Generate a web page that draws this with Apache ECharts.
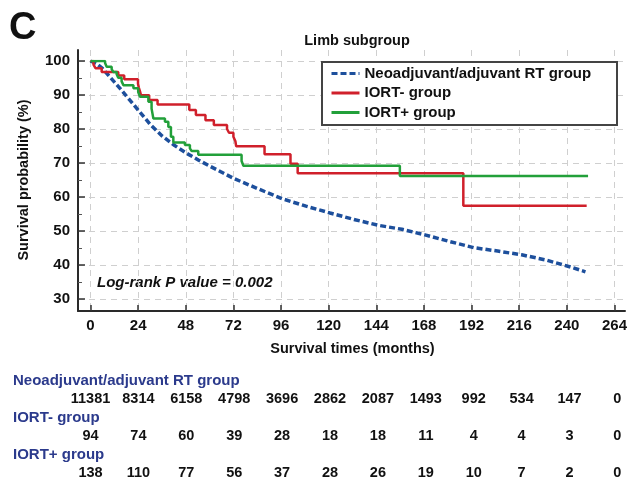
<!DOCTYPE html>
<html><head><meta charset="utf-8">
<script src="https://cdn.jsdelivr.net/npm/echarts@6/dist/echarts.min.js"></script>
<style>html,body{margin:0;padding:0;background:#fff}#c{width:630px;height:481px}</style>
</head><body><div id="c"></div>
<script>
// ---- data ----
const xTicks = [0, 24, 48, 72, 96, 120, 144, 168, 192, 216, 240, 264];
const yTicks = [30, 40, 50, 60, 70, 80, 90, 100];
const groupNames = ['Neoadjuvant/adjuvant RT group', 'IORT- group', 'IORT+ group'];

const neoTime = [0, 3, 6, 9, 12, 15, 18, 21, 24, 30, 36, 42, 48, 54, 60, 66, 72, 84, 96, 108, 120, 132, 144, 156, 168, 180, 192, 204, 216, 228, 240, 248];
const neoSurv = [100, 99.2, 97.8, 95.8, 93.8, 91.8, 89.7, 87.6, 85.5, 81.3, 77.9, 75.2, 72.9, 70.9, 69.0, 67.2, 65.4, 62.4, 59.5, 57.3, 55.3, 53.4, 51.7, 50.5, 48.8, 46.9, 45.1, 44.1, 43.0, 41.5, 39.5, 38.0];

const minusTime = [0, 1.5, 2.5, 5.6, 13.9, 16.9, 23.8, 24.2, 24.8, 25.3, 29.4, 33.6, 49.5, 52.8, 57.6, 61.8, 68.4, 69.4, 71.6, 72.6, 73.0, 87.2, 100.2, 103.8, 186.8, 248.6];
const minusSurv = [100, 98.9, 97.9, 96.8, 95.7, 94.6, 93.3, 92.2, 91.1, 89.9, 88.5, 87.2, 85.6, 84.1, 82.6, 81.2, 80.0, 78.9, 77.7, 76.4, 74.9, 72.6, 69.8, 67.0, 57.4, 57.4];

const plusTime = [0, 7.3, 8.1, 10.6, 11.4, 13.1, 13.9, 15.6, 16.5, 21.5, 23.9, 24.8, 29.0, 30.6, 31.5, 37.3, 39.0, 40.3, 41.5, 47.3, 49.8, 50.7, 54.0, 75.7, 76.6, 155.0, 249.3];
const plusSurv = [100, 99.4, 98.3, 97.6, 96.8, 96.1, 95.1, 94.0, 92.9, 92.0, 90.9, 89.5, 88.0, 86.0, 83.1, 82.1, 80.6, 77.7, 76.0, 75.3, 74.3, 73.5, 72.4, 70.6, 69.2, 66.2, 66.2];

const riskNeo = [11381, 8314, 6158, 4798, 3696, 2862, 2087, 1493, 992, 534, 147, 0];
const riskMinus = [94, 74, 60, 39, 28, 18, 18, 11, 4, 4, 3, 0];
const riskPlus = [138, 110, 77, 56, 37, 28, 26, 19, 10, 7, 2, 0];

// ---- chart ----
const FONT = "'Liberation Sans', Arial, sans-serif";
const colors = ['#1d4f9c', '#d0202b', '#22a03a'];
const zip = (t, s) => t.map((v, i) => [v, s[i]]);
const riskRows = [riskNeo, riskMinus, riskPlus];
const riskSeries = riskRows.map((row, r) => ({
  type: 'scatter', xAxisIndex: 4, yAxisIndex: 4, symbolSize: 0, silent: true,
  itemStyle: { color: '#111', opacity: 1 },
  data: row.map((v, i) => [xTicks[i], r, v]),
  label: { show: true, position: 'inside', formatter: p => p.value[2],
    color: '#111', textBorderWidth: 0, textBorderColor: 'transparent',
    fontFamily: FONT, fontWeight: 'bold', fontSize: 14.5 }
}));

const chart = echarts.init(document.getElementById('c'), null, { renderer: 'canvas' });
const hid = { show: false };
chart.setOption({
  animation: false,
  backgroundColor: '#fff',
  title: { text: 'Limb subgroup', left: 352, top: 28, textAlign: 'center',
    textStyle: { fontFamily: FONT, fontWeight: 'bold', fontSize: 14.5, color: '#111' } },
  grid: [
    { left: 78, top: 50, width: 547, height: 261 },          // frame
    { left: 90.5, right: 12.6, top: 61, height: 238 },      // data
    { left: 90.5, right: 12.6, top: 50, height: 261 },      // x ticks + vertical grid
    { left: 78, width: 547, top: 61, height: 238 },         // y ticks + horizontal grid
    { left: 90.5, right: 12.6, top: 381, height: 98 }       // risk table
  ],
  xAxis: [
    { gridIndex: 0, type: 'value', min: 0, max: 1, axisLine: { show: true, onZero: false, lineStyle: { color: '#2a2a2a', width: 2 } },
      axisTick: hid, axisLabel: hid, splitLine: hid },
    { gridIndex: 1, type: 'value', min: 0, max: 264, show: false },
    { gridIndex: 2, type: 'value', min: 0, max: 264, interval: 24,
      name: 'Survival times (months)', nameLocation: 'middle', nameGap: 30,
      nameTextStyle: { fontFamily: FONT, fontWeight: 'bold', fontSize: 14.5, color: '#111' },
      axisLine: { show: false, onZero: false },
      axisTick: { show: true, inside: true, length: 6, lineStyle: { color: '#333', width: 1.5 } },
      axisLabel: { show: true, margin: 7, fontFamily: FONT, fontWeight: 'bold', fontSize: 15, color: '#111',
        formatter: v => xTicks.indexOf(v) >= 0 ? String(v) : '' },
      splitLine: { show: true, lineStyle: { color: '#cfcfcf', type: [6, 5], width: 1 } } },
    { gridIndex: 3, type: 'value', min: 0, max: 264, show: false },
    { gridIndex: 4, type: 'value', min: 0, max: 264, show: false }
  ],
  yAxis: [
    { gridIndex: 0, type: 'value', min: 0, max: 1, axisLine: { show: true, onZero: false, lineStyle: { color: '#2a2a2a', width: 2 } },
      axisTick: hid, axisLabel: hid, splitLine: hid },
    { gridIndex: 1, type: 'value', min: 30, max: 100, show: false },
    { gridIndex: 2, type: 'value', min: 0, max: 1, show: false },
    { gridIndex: 3, type: 'value', min: 30, max: 100, interval: 10,
      name: 'Survival probability (%)', nameLocation: 'middle', nameGap: 47,
      nameTextStyle: { fontFamily: FONT, fontWeight: 'bold', fontSize: 14.5, color: '#111' },
      axisLine: { show: false, onZero: false },
      axisTick: { show: true, inside: true, length: 7, lineStyle: { color: '#333', width: 1.5 } },
      minorTick: { show: true, splitNumber: 2, length: 4, lineStyle: { color: '#555', width: 1 } },
      axisLabel: { show: true, margin: 8, fontFamily: FONT, fontWeight: 'bold', fontSize: 15, color: '#111',
        formatter: v => yTicks.indexOf(v) >= 0 ? String(v) : '' },
      splitLine: { show: true, lineStyle: { color: '#cfcfcf', type: [6, 5], width: 1 } } },
    { gridIndex: 4, type: 'value', min: -0.5, max: 2.149, inverse: true, show: false }
  ],
  legend: {
    orient: 'vertical', left: 330, top: 66, itemWidth: 28, itemHeight: 14, itemGap: 4.5, padding: 0, z: 10,
    itemStyle: { opacity: 0 },
    lineStyle: { width: 3 },
    textStyle: { fontFamily: FONT, fontWeight: 'bold', fontSize: 15, color: '#111' },
    data: groupNames
  },
  graphic: [
    { type: 'rect', z: 5, shape: { x: 322, y: 62, width: 295, height: 63 },
      style: { fill: '#fff', stroke: '#444', lineWidth: 2 } },
    { type: 'text', left: 9, top: 10, style: { text: 'C', fontFamily: FONT, fontWeight: 'bold', fontSize: 38, fill: '#111' } },
    { type: 'text', left: 97, top: 275, style: { text: 'Log-rank P value = 0.002', fontFamily: FONT, fontWeight: 'bold', fontStyle: 'italic', fontSize: 15, fill: '#111' } },
    { type: 'text', left: 13, top: 373, style: { text: groupNames[0], fontFamily: FONT, fontWeight: 'bold', fontSize: 15, fill: '#2b3a8c' } },
    { type: 'text', left: 13, top: 410, style: { text: groupNames[1], fontFamily: FONT, fontWeight: 'bold', fontSize: 15, fill: '#2b3a8c' } },
    { type: 'text', left: 13, top: 447, style: { text: groupNames[2], fontFamily: FONT, fontWeight: 'bold', fontSize: 15, fill: '#2b3a8c' } }
  ],
  series: [
    { name: groupNames[0], type: 'line', xAxisIndex: 1, yAxisIndex: 1, symbol: 'none', smooth: false, z: 3,
      data: zip(neoTime, neoSurv), lineStyle: { color: colors[0], width: 3.5, type: [6, 3] }, itemStyle: { color: colors[0] } },
    { name: groupNames[1], type: 'line', xAxisIndex: 1, yAxisIndex: 1, symbol: 'none', step: 'end', z: 4,
      data: zip(minusTime, minusSurv), lineStyle: { color: colors[1], width: 2.5 }, itemStyle: { color: colors[1] } },
    { name: groupNames[2], type: 'line', xAxisIndex: 1, yAxisIndex: 1, symbol: 'none', step: 'end', z: 4,
      data: zip(plusTime, plusSurv), lineStyle: { color: colors[2], width: 2.5 }, itemStyle: { color: colors[2] } },
    ...riskSeries
  ]
});
</script>
</body></html>
